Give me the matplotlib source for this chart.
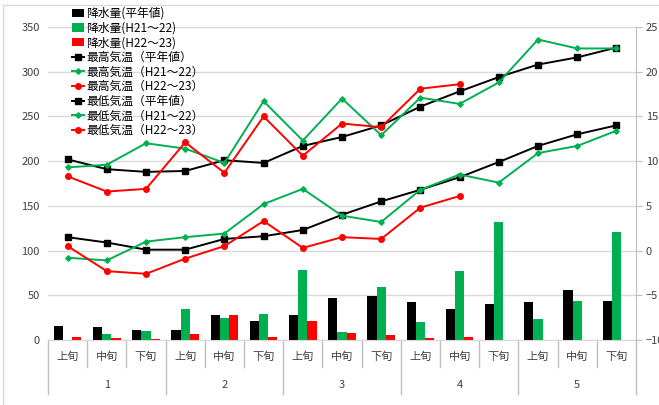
import numpy as np
import matplotlib
matplotlib.use("Agg")
import matplotlib.pyplot as plt
from matplotlib.lines import Line2D
import matplotlib.transforms as mtransforms

plt.rcParams['font.family'] = ['Noto Sans CJK JP', 'DejaVu Sans']

# data: 15 decades (Jan-May, 上旬/中旬/下旬)
decades = ['上旬', '中旬', '下旬'] * 5
months = ['1', '2', '3', '4', '5']
nan = np.nan

precip_normal = [15.3, 15.0, 11.7, 11.7, 27.7, 20.8, 28.1, 47.4, 49.3, 42.7, 34.7, 40.1, 43.0, 56.2, 43.8]
precip_h21 = [0, 6.6, 9.9, 34.7, 24.5, 28.8, 78.8, 8.4, 59.5, 19.7, 77.7, 132, 23.0, 43.8, 121]
precip_h22 = [3.6, 1.8, 1.0, 6.2, 27.4, 2.9, 21.5, 7.3, 5.5, 2.6, 3.6, nan, nan, nan, nan]

tmax_normal = [10.2, 9.1, 8.8, 8.9, 10.1, 9.8, 11.7, 12.7, 14.0, 16.1, 17.8, 19.4, 20.8, 21.6, 22.7]
tmax_h21 = [9.3, 9.6, 12.0, 11.4, 9.8, 16.7, 12.3, 17.0, 12.9, 17.1, 16.4, 18.8, 23.6, 22.6, 22.6]
tmax_h22 = [8.3, 6.6, 6.9, 12.1, 8.7, 15.0, 10.6, 14.2, 13.8, 18.1, 18.6, nan, nan, nan, nan]

tmin_normal = [1.5, 0.9, 0.1, 0.1, 1.3, 1.6, 2.3, 4.0, 5.5, 6.8, 8.2, 9.9, 11.7, 13.0, 14.0]
tmin_h21 = [-0.8, -1.1, 1.0, 1.5, 1.9, 5.2, 6.9, 3.9, 3.2, 6.8, 8.5, 7.6, 10.9, 11.7, 13.4]
tmin_h22 = [0.5, -2.3, -2.6, -0.9, 0.5, 3.3, 0.3, 1.5, 1.3, 4.8, 6.1, nan, nan, nan, nan]

GREEN = '#00B050'
RED = '#FF0000'
GRID = '#D9D9D9'

W, H = 659, 405
fig = plt.figure(figsize=(W / 100, H / 100), dpi=100)
ax = fig.add_axes([48 / W, (H - 340) / H, (636 - 48) / W, (340 - 27) / H])
ax2 = ax.twinx()

x = np.arange(len(decades))
bw = 0.235
ax.bar(x - bw, precip_normal, bw, color='black', label='降水量(平年値)', zorder=2)
ax.bar(x, precip_h21, bw, color=GREEN, label='降水量(H21～22)', zorder=2)
ax.bar(x + bw, precip_h22, bw, color=RED, label='降水量(H22～23)', zorder=2)

ax.set_ylim(0, 350)
ax.set_yticks(range(0, 351, 50))
ax.set_xlim(-0.5, len(decades) - 0.5)
ax.set_xticks([])
ax.yaxis.grid(True, color=GRID, lw=1)
ax.set_axisbelow(True)
for s in ['top', 'left', 'right']:
    ax.spines[s].set_visible(False)
ax.spines['bottom'].set_color(GRID)
ax.tick_params(axis='y', length=0, pad=6, labelsize=8, colors='#404040')

lw = 1.4
ax2.plot(x, tmax_normal, color='black', marker='s', ms=4.5, lw=lw, label='最高気温（平年値）')
ax2.plot(x, tmax_h21, color=GREEN, marker='D', ms=2.8, lw=lw, label='最高気温（H21～22）')
ax2.plot(x, tmax_h22, color=RED, marker='o', ms=4, lw=lw, label='最高気温（H22～23）')
ax2.plot(x, tmin_normal, color='black', marker='s', ms=4.5, lw=lw, label='最低気温（平年値）')
ax2.plot(x, tmin_h21, color=GREEN, marker='D', ms=2.8, lw=lw, label='最低気温（H21～22）')
ax2.plot(x, tmin_h22, color=RED, marker='o', ms=4, lw=lw, label='最低気温（H22～23）')
ax2.set_ylim(-10, 25)
ax2.set_yticks(range(-10, 26, 5))
for s in ['top', 'left', 'bottom']:
    ax2.spines[s].set_visible(False)
ax2.spines['right'].set_color('#BFBFBF')
ax2.tick_params(axis='y', length=4, color='#BFBFBF', pad=3, labelsize=8, labelcolor='#404040')

# category axis labels and separators
trans = mtransforms.blended_transform_factory(ax.transData, ax.transAxes)
for i, lab in enumerate(decades):
    ax.text(i, -0.054, lab, transform=trans, ha='center', va='center', fontsize=8, color='#404040')
for m, lab in enumerate(months):
    ax.text(m * 3 + 1, -0.144, lab, transform=trans, ha='center', va='center', fontsize=8, color='#404040')
for k in range(len(decades) + 1):
    y_end = -0.172 if k % 3 == 0 else -0.086
    ax.plot([k - 0.5, k - 0.5], [0, y_end], transform=trans, color='#BFBFBF', lw=1, clip_on=False)

# chart area border
fig.add_artist(Line2D([3 / W, 3 / W], [0, 1 - 5 / H], color=GRID, lw=1))
fig.add_artist(Line2D([3 / W, 1], [1 - 5 / H, 1 - 5 / H], color=GRID, lw=1))

h1, l1 = ax.get_legend_handles_labels()
h2, l2 = ax2.get_legend_handles_labels()
fig.legend(h1 + h2, l1 + l2, loc='upper left', bbox_to_anchor=(72 / W, 1 - 7 / H),
           frameon=False, fontsize=8.5, handlelength=1.0, handleheight=0.7,
           handletextpad=0.2, labelspacing=0.14, borderaxespad=0, borderpad=0)

fig.savefig('out.png', dpi=100)
